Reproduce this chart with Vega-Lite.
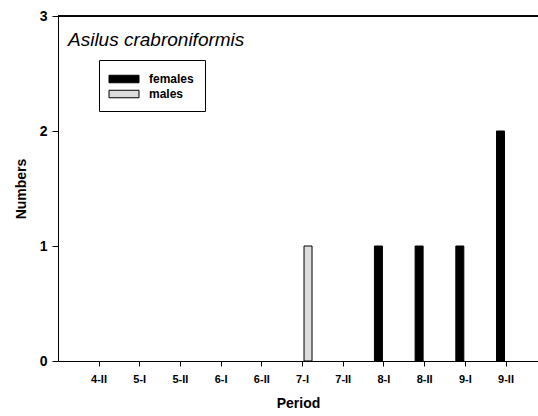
{
  "$schema": "https://vega.github.io/schema/vega-lite/v6.json",
  "width": 480,
  "height": 345,
  "autosize": {"type": "none"},
  "padding": {"left": 58, "top": 16, "right": 0, "bottom": 55},
  "background": "white",
  "title": {
    "text": "Asilus crabroniformis",
    "anchor": "start",
    "frame": "group",
    "font": "Liberation Sans",
    "fontStyle": "italic",
    "fontWeight": "normal",
    "fontSize": 19,
    "color": "black",
    "baseline": "alphabetic",
    "offset": 0,
    "dx": 10,
    "dy": 56
  },
  "data": {
    "values": [
      {"period": "7-I", "sex": "males", "count": 1},
      {"period": "8-I", "sex": "females", "count": 1},
      {"period": "8-II", "sex": "females", "count": 1},
      {"period": "9-I", "sex": "females", "count": 1},
      {"period": "9-II", "sex": "females", "count": 2}
    ]
  },
  "layer": [
    {
      "mark": {"type": "bar", "stroke": "black", "strokeWidth": 1},
      "encoding": {
        "x": {
          "field": "period",
          "type": "nominal",
          "scale": {
            "domain": ["4-II", "5-I", "5-II", "6-I", "6-II", "7-I", "7-II", "8-I", "8-II", "9-I", "9-II"],
            "paddingInner": 0,
            "paddingOuter": 0.397,
            "align": 0.64
          },
          "axis": {
            "title": "Period",
            "labelAngle": 0,
            "labelFontSize": 11,
            "labelPadding": 7,
            "tickSize": 5,
            "titleFontSize": 14,
            "titlePadding": 12
          }
        },
        "xOffset": {
          "field": "sex",
          "type": "nominal",
          "scale": {"domain": ["females", "males"], "paddingInner": 0.273, "paddingOuter": 0.987}
        },
        "y": {
          "field": "count",
          "type": "quantitative",
          "scale": {"domain": [0, 3], "nice": false},
          "axis": {
            "title": "Numbers",
            "values": [0, 1, 2, 3],
            "format": "d",
            "grid": false,
            "tickSize": 6,
            "labelFontSize": 14,
            "labelPadding": 5,
            "titleFontSize": 14,
            "titlePadding": 11
          }
        },
        "color": {
          "field": "sex",
          "type": "nominal",
          "scale": {"domain": ["females", "males"], "range": ["black", "#dcdcdc"]},
          "legend": {
            "title": null,
            "orient": "none",
            "legendX": 41,
            "legendY": 44,
            "strokeColor": "black",
            "padding": 11,
            "symbolType": "M-2,-0.5H2V0.5H-2Z",
            "symbolSize": 225,
            "symbolOffset": 6,
            "symbolStrokeColor": "black",
            "symbolStrokeWidth": 1,
            "labelFontSize": 12,
            "labelFontWeight": "bold",
            "labelFont": "Liberation Sans",
            "labelColor": "black",
            "labelOffset": 17,
            "rowPadding": 1
          }
        }
      }
    },
    {
      "mark": {"type": "rule", "color": "black", "strokeWidth": 1},
      "encoding": {"y": {"datum": 3}}
    }
  ],
  "config": {
    "view": {"stroke": null},
    "axis": {
      "domainColor": "black",
      "tickColor": "black",
      "labelColor": "black",
      "titleColor": "black",
      "labelFont": "Liberation Sans",
      "titleFont": "Liberation Sans",
      "labelFontWeight": "bold",
      "titleFontWeight": "bold"
    }
  }
}
